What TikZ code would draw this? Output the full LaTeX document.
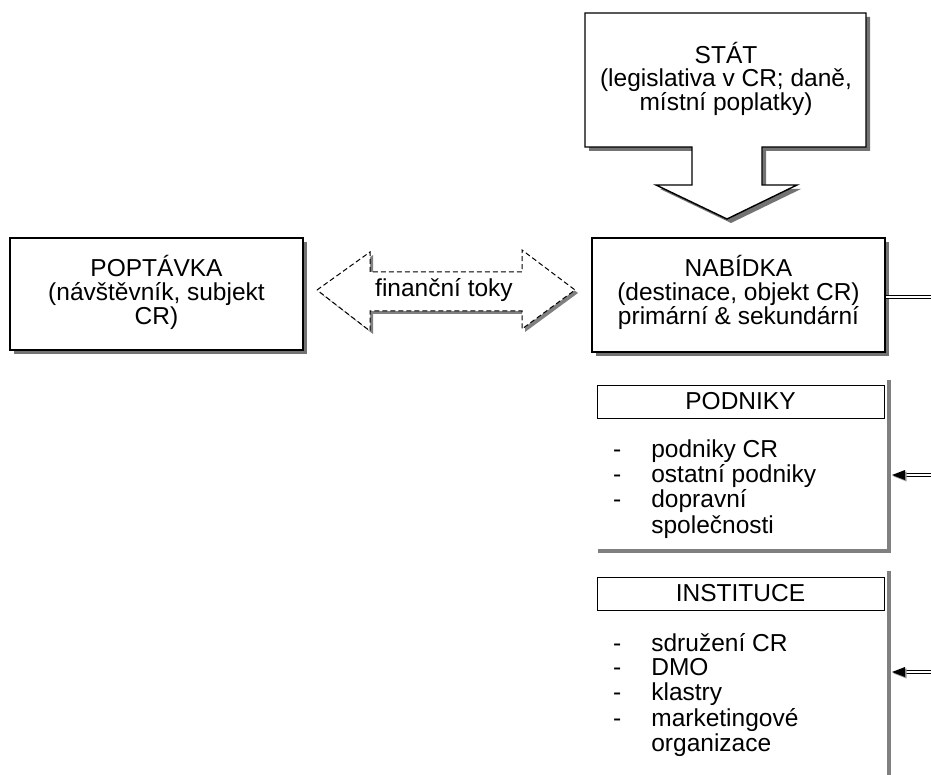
\documentclass[tikz,border=0pt]{standalone}
\usepackage{fontspec}
\setmainfont{Liberation Sans}
\usetikzlibrary{shadows}
\begin{document}
\begin{tikzpicture}[x=1pt,y=-1pt,
  txt/.style={font=\fontsize{24.5}{24}\selectfont, inner sep=0pt, align=center},
  shd/.style={drop shadow={shadow xshift=4pt, shadow yshift=-4pt, fill=black!55, opacity=1}},
  bigbox/.style={draw=black, line width=2.6pt, fill=white, shd, minimum width=#1, inner sep=0pt},
  headbox/.style={draw=black, line width=1pt, fill=white, minimum width=287pt, minimum height=33pt, inner sep=0pt, font=\fontsize{24.5}{24}\selectfont},
  grayline/.style={draw=black!50, line width=4pt},
  dbl/.style={draw=black, line width=0.9pt, double=white, double distance=2pt},
  listtxt/.style={font=\fontsize{24.5}{24.6}\selectfont, inner sep=0pt, anchor=base west}
]
\useasboundingbox (0,0) rectangle (931,775);

% STAT callout box with down arrow
\path[draw=black, line width=1.4pt, fill=white, shd]
  (585,13) -- (866,13) -- (866,147) -- (762,147) -- (762,185) -- (797,185)
  -- (727,219) -- (656,185) -- (692,185) -- (692,147) -- (585,147) -- cycle;
\node[txt, font=\fontsize{24.5}{23}\selectfont] (stat) at (726,79) {STÁT\\(legislativa v CR; daně,\\místní poplatky)};

% POPTAVKA
\node[bigbox=293pt, minimum height=112pt] (popbox) at (156.5,294) {};
\node[txt] (pop) at (156.5,292) {POPTÁVKA\\(návštěvník, subjekt\\CR)};

% NABIDKA
\node[bigbox=293pt, minimum height=114pt] (nabbox) at (738.5,295) {};
\node[txt] (nab) at (738.5,292) {NABÍDKA\\(destinace, objekt CR)\\primární \& sekundární};

% double arrow financni toky
\path[draw=black, line width=1pt, dashed, dash pattern=on 5pt off 3pt, fill=white,
      drop shadow={shadow xshift=3pt, shadow yshift=-3pt, fill=black!50, opacity=1}]
  (317,290) -- (370,252) -- (370,272) -- (522,272) -- (522,250) -- (575,290)
  -- (522,329) -- (522,311) -- (370,311) -- (370,331) -- cycle;
\node[txt] (fin) at (444,290) {finanční toky};

% PODNIKY panel
\draw[grayline] (889,380) -- (889,553);
\draw[grayline] (598,551) -- (891,551);
\node[headbox] (podh) at (740.5,401.5) {PODNIKY};
\node[listtxt] (podl) at (613,457) {\begin{tabular}[t]{@{}l@{\hspace{30pt}}l@{}}
-&podniky CR\\-&ostatní podniky\\-&dopravní\\&společnosti\end{tabular}};

% INSTITUCE panel
\draw[grayline] (889,571) -- (889,780);
\node[headbox] (insh) at (740.5,593.5) {INSTITUCE};
\node[listtxt] (insl) at (613,651) {\begin{tabular}[t]{@{}l@{\hspace{30pt}}l@{}}
-&sdružení CR\\-&DMO\\-&klastry\\-&marketingové\\&organizace\end{tabular}};

% connectors
\coordinate (edgeA) at (940,297);
\coordinate (edgeB) at (940,475);
\coordinate (edgeC) at (940,672);
\coordinate (tipB) at (892,475);
\coordinate (tipC) at (892,672);
\draw[dbl] (nabbox.east |- edgeA) -- (edgeA);
\draw[dbl] (edgeB) -- ([xshift=10pt]tipB);
\fill[black!40] ([shift={(1.5pt,-1.5pt)}]tipB) -- ++(13pt,-5pt) -- ++(0,10pt) -- cycle;
\fill[black] (tipB) -- ++(13pt,-5pt) -- ++(0,10pt) -- cycle;
\draw[dbl] (edgeC) -- ([xshift=10pt]tipC);
\fill[black!40] ([shift={(1.5pt,-1.5pt)}]tipC) -- ++(13pt,-5pt) -- ++(0,10pt) -- cycle;
\fill[black] (tipC) -- ++(13pt,-5pt) -- ++(0,10pt) -- cycle;
\end{tikzpicture}
\end{document}
